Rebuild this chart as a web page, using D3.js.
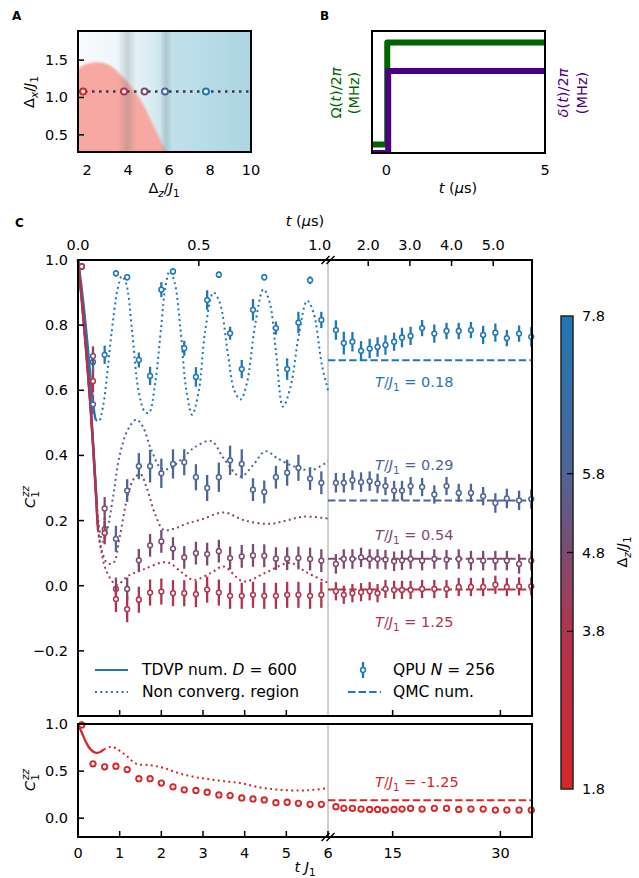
<!DOCTYPE html>
<html>
<head>
<meta charset="utf-8">
<script src="https://cdn.jsdelivr.net/npm/d3@7"></script>
<style>
  body { margin: 0; background: #fff; }
  svg { font-family: "DejaVu Sans", sans-serif; }
</style>
</head>
<body>
<svg id="fig" width="639" height="878"></svg>
<script>
// ---------- panel A: phase diagram ----------
const phaseX = [1.55, 2.0, 2.5, 3.0, 3.3, 3.6, 3.95, 4.3, 4.6, 5.1, 5.5, 5.87];
const phaseY = [1.39, 1.45, 1.47, 1.44, 1.39, 1.31, 1.21, 1.09, 0.97, 0.70, 0.47, 0.27];
const bgStopsX = [1.55, 3.4, 5.0, 6.0, 10];
const bgStopsC = ["#f8fbfd", "#eef6f9", "#dcedf3", "#c2e1ea", "#abd6e3"];
const bandX = [3.95, 5.85];
const bandHalf = [0.45, 0.3];
const probeDz = [1.8, 3.8, 4.8, 5.8, 7.8];
const probeDx = 1.08;

// ---------- panel B: drive ----------
const omegaT = [-0.45, 0.03, 0.03, 5];
const omegaV = [0.07, 0.07, 0.905, 0.905];
const deltaT = [-0.45, 0.06, 0.06, 5];
const deltaV = [0.0, 0.0, 0.672, 0.672];

// ---------- panel C ----------
const cbTicks = [1.8, 3.8, 4.8, 5.8, 7.8];
const cbColors = ["#d62728", "#b0344f", "#7e4b70", "#4f6597", "#1f77b4"];

const dzSeries = [7.8, 5.8, 4.8, 3.8];
const tempLabels = ["0.18", "0.29", "0.54", "1.25"];
const tempLabelY = [0.625, 0.372, 0.157, -0.11];
const qmc = [0.692, 0.262, 0.083, -0.012];

const tQpu = [0.09, 0.36, 0.64, 0.91, 1.18, 1.46, 1.73, 2.0, 2.28, 2.55, 2.83, 3.1, 3.38, 3.65, 3.93, 4.2, 4.47, 4.75, 5.02, 5.29, 5.57, 5.84,
  7.1, 8.2, 9.4, 10.6, 11.8, 12.9, 14.0, 15.2, 16.3, 17.5, 19.1, 20.8, 22.5, 24.2, 25.9, 27.6, 29.3, 30.9, 32.6, 34.3];

const qpu78 = [0.98, 0.687, 0.709, 0.959, 0.947, 0.693, 0.644, 0.909, 0.965, 0.729, 0.641, 0.877, 0.955, 0.775, 0.665, 0.847, 0.947, 0.791, 0.665, 0.808, 0.938, 0.816,
  0.785, 0.745, 0.749, 0.721, 0.728, 0.733, 0.739, 0.749, 0.762, 0.767, 0.791, 0.774, 0.782, 0.782, 0.785, 0.770, 0.777, 0.760, 0.774, 0.764];
const err78 = [0.005, 0.03, 0.028, 0.01, 0.01, 0.023, 0.028, 0.023, 0.01, 0.023, 0.03, 0.03, 0.01, 0.02, 0.028, 0.033, 0.01, 0.02, 0.033, 0.033, 0.012, 0.025,
  0.03, 0.035, 0.03, 0.03, 0.03, 0.03, 0.03, 0.028, 0.03, 0.028, 0.025, 0.028, 0.025, 0.025, 0.025, 0.028, 0.028, 0.025, 0.025, 0.03];

const qpu58 = [0.98, 0.557, 0.174, 0.144, 0.292, 0.367, 0.367, 0.345, 0.374, 0.379, 0.333, 0.300, 0.333, 0.385, 0.374, 0.295, 0.288, 0.333, 0.347, 0.362, 0.329, 0.316,
  0.316, 0.316, 0.324, 0.318, 0.321, 0.314, 0.306, 0.292, 0.292, 0.306, 0.303, 0.280, 0.306, 0.285, 0.285, 0.275, 0.254, 0.268, 0.262, 0.266];
const err58 = [0.005, 0.03, 0.035, 0.04, 0.035, 0.04, 0.05, 0.045, 0.045, 0.04, 0.04, 0.04, 0.045, 0.045, 0.045, 0.035, 0.035, 0.035, 0.04, 0.04, 0.035, 0.035,
  0.03, 0.03, 0.03, 0.03, 0.03, 0.03, 0.028, 0.03, 0.03, 0.028, 0.028, 0.028, 0.028, 0.028, 0.028, 0.028, 0.03, 0.03, 0.03, 0.03];

const qpu48 = [0.98, 0.705, 0.237, -0.010, -0.010, 0.078, 0.124, 0.136, 0.114, 0.087, 0.100, 0.097, 0.106, 0.085, 0.090, 0.093, 0.092, 0.083, 0.083, 0.085, 0.082, 0.077,
  0.067, 0.082, 0.082, 0.087, 0.082, 0.082, 0.080, 0.075, 0.078, 0.082, 0.077, 0.082, 0.080, 0.082, 0.077, 0.077, 0.077, 0.077, 0.067, 0.077];
const err48 = [0.005, 0.03, 0.035, 0.035, 0.035, 0.035, 0.035, 0.035, 0.035, 0.035, 0.035, 0.035, 0.035, 0.035, 0.035, 0.035, 0.035, 0.035, 0.035, 0.035, 0.035, 0.035,
  0.03, 0.03, 0.03, 0.03, 0.03, 0.03, 0.03, 0.03, 0.03, 0.03, 0.03, 0.03, 0.03, 0.03, 0.03, 0.03, 0.03, 0.03, 0.03, 0.03];

const qpu38 = [0.98, 0.628, 0.162, -0.041, -0.072, -0.043, -0.021, -0.018, -0.023, -0.023, -0.026, -0.012, -0.021, -0.031, -0.031, -0.028, -0.031, -0.031, -0.028, -0.028, -0.031, -0.028,
  -0.017, -0.028, -0.023, -0.020, -0.017, -0.023, -0.010, -0.013, -0.013, -0.013, -0.010, -0.010, -0.010, -0.004, -0.004, -0.004, 0.003, -0.004, -0.002, -0.002];
const err38 = [0.005, 0.035, 0.035, 0.04, 0.04, 0.04, 0.04, 0.04, 0.04, 0.04, 0.04, 0.04, 0.04, 0.04, 0.04, 0.04, 0.04, 0.04, 0.04, 0.04, 0.04, 0.04,
  0.028, 0.028, 0.028, 0.028, 0.028, 0.028, 0.028, 0.028, 0.028, 0.028, 0.028, 0.028, 0.028, 0.028, 0.028, 0.028, 0.028, 0.028, 0.028, 0.028];

// TDVP curves: [t J1, C]
const solid78 = [[0, 1.0], [0.1, 0.9], [0.2, 0.78], [0.3, 0.64], [0.36, 0.56], [0.42, 0.51]];
const dot78 = [[0.42, 0.51], [0.5, 0.505], [0.6, 0.55], [0.7, 0.65], [0.8, 0.77], [0.95, 0.91], [1.05, 0.95], [1.15, 0.93], [1.3, 0.78], [1.45, 0.6], [1.6, 0.535],
  [1.7, 0.53], [1.85, 0.62], [2.0, 0.8], [2.1, 0.92], [2.2, 0.965], [2.32, 0.93], [2.45, 0.8], [2.6, 0.6], [2.74, 0.525], [2.9, 0.6], [3.05, 0.78], [3.25, 0.9],
  [3.4, 0.87], [3.6, 0.71], [3.75, 0.6], [3.9, 0.572], [4.05, 0.62], [4.25, 0.8], [4.45, 0.91], [4.6, 0.87], [4.75, 0.72], [4.92, 0.55], [5.1, 0.61], [5.3, 0.77],
  [5.5, 0.875], [5.65, 0.84], [5.85, 0.68], [6.0, 0.60]];
const solid58 = [[0, 1], [0.1, 0.87], [0.2, 0.72], [0.3, 0.56], [0.38, 0.40], [0.45, 0.25]];
const dot58 = [[0.45, 0.25], [0.52, 0.17], [0.6, 0.135], [0.7, 0.17], [0.85, 0.28], [1.0, 0.40], [1.2, 0.48], [1.4, 0.51], [1.55, 0.49], [1.75, 0.42], [2.0, 0.36],
  [2.2, 0.36], [2.5, 0.39], [2.8, 0.425], [3.2, 0.444], [3.5, 0.39], [3.9, 0.335], [4.2, 0.37], [4.5, 0.413], [4.8, 0.39], [5.17, 0.367], [5.6, 0.355], [6.0, 0.382]];
const solid48 = [[0, 1], [0.1, 0.86], [0.2, 0.71], [0.3, 0.55], [0.4, 0.35], [0.47, 0.19]];
const dot48 = [[0.47, 0.19], [0.55, 0.12], [0.7, 0.07], [0.85, 0.07], [1.0, 0.15], [1.2, 0.28], [1.35, 0.33], [1.5, 0.342], [1.65, 0.30], [1.85, 0.22], [2.05, 0.172],
  [2.3, 0.175], [2.6, 0.19], [3.0, 0.205], [3.5, 0.225], [4.0, 0.2], [4.6, 0.19], [5.0, 0.2], [5.4, 0.212], [6.0, 0.206]];
const solid38 = [[0, 1], [0.1, 0.87], [0.2, 0.72], [0.29, 0.57], [0.4, 0.35], [0.48, 0.17]];
const dot38 = [[0.48, 0.17], [0.55, 0.11], [0.7, 0.04], [0.93, 0.003], [1.2, 0.03], [1.57, 0.05], [2.13, 0.072], [2.5, 0.04], [2.77, 0.018], [3.2, 0.04], [3.49, 0.059],
  [3.97, 0.013], [4.5, 0.04], [5.09, 0.07], [5.5, 0.04], [6.0, 0.009]];

// bottom panel, Delta_z = 1.8
const qpu18 = [0.99, 0.577, 0.545, 0.552, 0.516, 0.419, 0.419, 0.373, 0.333, 0.301, 0.294, 0.276, 0.247, 0.240, 0.215, 0.204, 0.194, 0.165, 0.169, 0.158, 0.147, 0.147,
  0.122, 0.104, 0.104, 0.097, 0.093, 0.093, 0.086, 0.093, 0.097, 0.104, 0.097, 0.104, 0.104, 0.093, 0.097, 0.097, 0.086, 0.086, 0.086, 0.086];
const solid18 = [[0, 1.0], [0.1, 0.9], [0.2, 0.8], [0.3, 0.73], [0.42, 0.695], [0.52, 0.70], [0.62, 0.73]];
const dot18 = [[0.62, 0.73], [0.77, 0.756], [0.9, 0.745], [1.05, 0.70], [1.17, 0.66], [1.4, 0.577], [1.73, 0.563], [2.05, 0.534], [2.45, 0.473], [2.93, 0.427],
  [3.41, 0.398], [3.89, 0.373], [4.37, 0.326], [4.85, 0.301], [5.33, 0.294], [5.65, 0.301], [6.0, 0.319]];
const qmc18 = 0.19;
const tempLabel18 = "-1.25";

// ticks
const usPerTJ = 5.8;                 // t J1 per microsecond
const topTicksL = [0.0, 0.5, 1.0];
const topTicksR = [2.0, 3.0, 4.0, 5.0];
const botTicksL = [0, 1, 2, 3, 4, 5, 6];
const botTicksR = [15, 30];

// ---------- drawing ----------
const svg = d3.select("#fig");
const cmap = d3.scaleLinear().domain(cbTicks).range(cbColors);
const defs = svg.append("defs");

// rich text helper: parts = [[text, {i, sub, sup, dx}], ...]
function rich(sel, parts, size) {
  let shift = 0;
  parts.forEach(([s, o = {}]) => {
    const ts = sel.append("tspan").text(s);
    const want = o.sub ? size * 0.28 : o.sup ? -size * 0.42 : 0;
    if (want !== shift) ts.attr("dy", want - shift);
    shift = want;
    if (o.i) ts.attr("font-style", "italic");
    if (o.sub || o.sup) ts.attr("font-size", size * 0.72);
    if (o.dx) ts.attr("dx", o.dx);
  });
  return sel;
}
function label(x, y, parts, size, opts = {}) {
  const t = svg.append("text")
    .attr("transform", `translate(${x},${y})` + (opts.rot ? " rotate(-90)" : ""))
    .attr("text-anchor", opts.anchor || "middle")
    .attr("font-size", size)
    .attr("fill", opts.color || "#000");
  return rich(t, parts, size);
}
const fmt = v => v.toFixed(1).replace("-", "\u2212");
const TS = 14.5;
const LS = 15.5;

// ===== Panel A =====
const xA = d3.scaleLinear([1.55, 10], [78, 251]);
const yA = d3.scaleLinear([0.27, 1.89], [152, 31]);
const gA = svg.append("g");
defs.append("clipPath").attr("id", "clipA").append("rect")
  .attr("x", 78).attr("y", 31).attr("width", 173).attr("height", 121);
const bg = defs.append("linearGradient").attr("id", "bgA")
  .attr("gradientUnits", "userSpaceOnUse").attr("x1", xA(1.55)).attr("x2", xA(10)).attr("y1", 0).attr("y2", 0);
bgStopsX.forEach((x, i) => bg.append("stop")
  .attr("offset", (xA(x) - xA(1.55)) / (xA(10) - xA(1.55))).attr("stop-color", bgStopsC[i]));
const inA = gA.append("g").attr("clip-path", "url(#clipA)");
inA.append("rect").attr("x", 78).attr("y", 31).attr("width", 173).attr("height", 121).attr("fill", "url(#bgA)");

defs.append("filter").attr("id", "soft").append("feGaussianBlur").attr("stdDeviation", 1.2);
const phase = phaseX.map((x, i) => [x, phaseY[i]]);
inA.append("path")
  .attr("d", d3.area().x(d => xA(d[0])).y0(yA(0.1)).y1(d => yA(d[1])).curve(d3.curveMonotoneX)(phase))
  .attr("fill", "#f7a8a2").attr("filter", "url(#soft)");

bandX.forEach((c, i) => {
  const id = "band" + i;
  const g = defs.append("linearGradient").attr("id", id)
    .attr("gradientUnits", "userSpaceOnUse")
    .attr("x1", xA(c - bandHalf[i])).attr("x2", xA(c + bandHalf[i])).attr("y1", 0).attr("y2", 0);
  [[0, 0], [0.5, 0.24], [1, 0]].forEach(([o, a]) =>
    g.append("stop").attr("offset", o).attr("stop-color", "#5a6870").attr("stop-opacity", a));
  inA.append("rect").attr("x", xA(c - bandHalf[i])).attr("y", 31)
    .attr("width", xA(c + bandHalf[i]) - xA(c - bandHalf[i])).attr("height", 121)
    .attr("fill", `url(#${id})`);
});

inA.append("line").attr("x1", xA(1.55)).attr("x2", xA(10)).attr("y1", yA(probeDx)).attr("y2", yA(probeDx))
  .attr("stroke", "#3a3a48").attr("stroke-width", 2.5).attr("stroke-dasharray", "2.5,4.5");
gA.selectAll("circle.probe").data(probeDz).join("circle")
  .attr("cx", d => xA(d)).attr("cy", yA(probeDx)).attr("r", 3)
  .attr("fill", "#fff").attr("stroke", d => cmap(d)).attr("stroke-width", 2);

gA.append("rect").attr("x", 78).attr("y", 31).attr("width", 173).attr("height", 121)
  .attr("fill", "none").attr("stroke", "#000").attr("stroke-width", 2);
[0.5, 1.0, 1.5].forEach(v => {
  gA.append("line").attr("x1", 78).attr("x2", 84).attr("y1", yA(v)).attr("y2", yA(v)).attr("stroke", "#000").attr("stroke-width", 1.5);
  label(68, yA(v) + 5, [[v.toFixed(1)]], TS, { anchor: "end" });
});
[2, 4, 6, 8, 10].forEach(v => label(xA(v), 175, [[String(v)]], TS));
label(34, 92, [["\u0394"], ["x", { i: 1, sub: 1 }], ["/"], ["J", { i: 1 }], ["1", { sub: 1 }]], TS, { rot: 1 });
label(164, 193, [["\u0394"], ["z", { i: 1, sub: 1 }], ["/"], ["J", { i: 1 }], ["1", { sub: 1 }]], TS);
svg.append("text").attr("x", 12).attr("y", 20).attr("font-size", 12).attr("font-weight", "bold").text("A");

// ===== Panel B =====
const xB = d3.scaleLinear([-0.45, 5], [372, 545]);
const yB = d3.scaleLinear([0, 1], [153, 31]);
defs.append("clipPath").attr("id", "clipB").append("rect")
  .attr("x", 372).attr("y", 31).attr("width", 173).attr("height", 122);
const gB = svg.append("g").attr("clip-path", "url(#clipB)");
const lineB = d3.line().x(d => xB(d[0])).y(d => yB(d[1]));
gB.append("path").attr("d", lineB(omegaT.map((t, i) => [t, omegaV[i]])))
  .attr("fill", "none").attr("stroke", "#006400").attr("stroke-width", 6).attr("stroke-linejoin", "round");
gB.append("path").attr("d", lineB(deltaT.map((t, i) => [t, deltaV[i]])))
  .attr("fill", "none").attr("stroke", "#4b0082").attr("stroke-width", 6).attr("stroke-linejoin", "round");
svg.append("rect").attr("x", 372).attr("y", 31).attr("width", 173).attr("height", 122)
  .attr("fill", "none").attr("stroke", "#000").attr("stroke-width", 2);
[0, 5].forEach(v => label(xB(v), 175, [[String(v)]], TS));
label(458, 193, [["t", { i: 1 }], [" ("], ["\u03bc", { i: 1 }], ["s)"]], TS);
label(341, 93, [["\u03a9("], ["t", { i: 1 }], [")/2"], ["\u03c0", { i: 1 }]], TS, { rot: 1, color: "#006400" });
label(359, 93, [["(MHz)"]], TS, { rot: 1, color: "#006400" });
label(568, 93, [["\u03b4", { i: 1 }], ["("], ["t", { i: 1 }], [")/2"], ["\u03c0", { i: 1 }]], TS, { rot: 1, color: "#4b0082" });
label(587, 93, [["(MHz)"]], TS, { rot: 1, color: "#4b0082" });
svg.append("text").attr("x", 320).attr("y", 20).attr("font-size", 12).attr("font-weight", "bold").text("B");

// ===== Panel C =====
const L0 = 78, BRK = 328, R1 = 532;
const xL = d3.scaleLinear([0, 6], [L0, BRK]);
const xR = d3.scaleLinear([6, 34.4], [BRK, R1]);
const X = t => (t <= 6 ? xL(t) : xR(t));
const yM = d3.scaleLinear([-0.4, 1.0], [716, 260]);
const yBt = d3.scaleLinear([-0.2, 1.0], [837, 724]);

const curve = d3.curveCatmullRom.alpha(0.5);
const lineM = d3.line().x(d => xL(d[0])).y(d => yM(d[1])).curve(curve);
const lineBt = d3.line().x(d => xL(d[0])).y(d => yBt(d[1])).curve(curve);

// break line
[[260, 716], [724, 837]].forEach(([a, b]) =>
  svg.append("line").attr("x1", BRK).attr("x2", BRK).attr("y1", a).attr("y2", b).attr("stroke", "#a0a0a0").attr("stroke-width", 1));

const solids = [solid78, solid58, solid48, solid38];
const dots = [dot78, dot58, dot48, dot38];
const qpus = [qpu78, qpu58, qpu48, qpu38];
const errs = [err78, err58, err48, err38];

const gC = svg.append("g");
dzSeries.forEach((dz, i) => {
  gC.append("path").attr("d", lineM(dots[i])).attr("fill", "none")
    .attr("stroke", cmap(dz)).attr("stroke-width", 2).attr("stroke-dasharray", "2,3.3");
});
dzSeries.forEach((dz, i) => {
  gC.append("path").attr("d", lineM(solids[i])).attr("fill", "none")
    .attr("stroke", cmap(dz)).attr("stroke-width", 2.4);
});
dzSeries.forEach((dz, i) => {
  gC.append("line").attr("x1", xR(6)).attr("x2", xR(34.4)).attr("y1", yM(qmc[i])).attr("y2", yM(qmc[i]))
    .attr("stroke", cmap(dz)).attr("stroke-width", 2).attr("stroke-dasharray", "7.4,3.2");
});
dzSeries.forEach((dz, i) => {
  const c = cmap(dz);
  const g = gC.append("g");
  g.selectAll("line").data(tQpu).join("line")
    .attr("x1", d => X(d)).attr("x2", d => X(d))
    .attr("y1", (d, j) => yM(qpus[i][j] - errs[i][j])).attr("y2", (d, j) => yM(qpus[i][j] + errs[i][j]))
    .attr("stroke", c).attr("stroke-width", 2.3);
  g.selectAll("circle").data(tQpu).join("circle")
    .attr("cx", d => X(d)).attr("cy", (d, j) => yM(qpus[i][j])).attr("r", 2.4)
    .attr("fill", "#fff").attr("stroke", c).attr("stroke-width", 1.5);
});
dzSeries.forEach((dz, i) => {
  label(xR(12.55), yM(tempLabelY[i]) + 5,
    [["T", { i: 1 }], ["/"], ["J", { i: 1 }], ["1", { sub: 1 }], [" = " + tempLabels[i]]], TS, { anchor: "start", color: cmap(dz) });
});

// main axes frame
svg.append("line").attr("x1", L0).attr("x2", L0).attr("y1", 260).attr("y2", 716).attr("stroke", "#000").attr("stroke-width", 2);
svg.append("line").attr("x1", R1).attr("x2", R1).attr("y1", 260).attr("y2", 716).attr("stroke", "#000").attr("stroke-width", 2);
svg.append("line").attr("x1", L0 - 1).attr("x2", R1 + 1).attr("y1", 260).attr("y2", 260).attr("stroke", "#000").attr("stroke-width", 2);
svg.append("line").attr("x1", L0 - 1).attr("x2", R1 + 1).attr("y1", 716).attr("y2", 716).attr("stroke", "#000").attr("stroke-width", 2);
[1.0, 0.8, 0.6, 0.4, 0.2, 0.0, -0.2].forEach(v => {
  svg.append("line").attr("x1", L0).attr("x2", L0 + 6).attr("y1", yM(v)).attr("y2", yM(v)).attr("stroke", "#000").attr("stroke-width", 1.5);
  label(68, yM(v) + 5, [[fmt(v)]], TS, { anchor: "end" });
});
// top axis (microseconds)
topTicksL.forEach(v => {
  const x = xL(v * usPerTJ);
  if (v > 0 && v < 1) svg.append("line").attr("x1", x).attr("x2", x).attr("y1", 260).attr("y2", 266).attr("stroke", "#000").attr("stroke-width", 1.5);
  label(x, 250, [[v.toFixed(1)]], TS);
});
topTicksR.forEach(v => {
  const x = xR(v * usPerTJ);
  svg.append("line").attr("x1", x).attr("x2", x).attr("y1", 260).attr("y2", 266).attr("stroke", "#000").attr("stroke-width", 1.5);
  label(x, 250, [[v.toFixed(1)]], TS);
});
label(305, 226, [["t", { i: 1 }], [" ("], ["\u03bc", { i: 1 }], ["s)"]], TS);
// bottom ticks of main panel
botTicksL.slice(1, -1).map(xL).concat(botTicksR.map(xR)).forEach(x =>
  svg.append("line").attr("x1", x).attr("x2", x).attr("y1", 716).attr("y2", 710).attr("stroke", "#000").attr("stroke-width", 1.5));
label(35, 497, [["C", { i: 1 }], ["1", { sub: 1 }], ["zz", { i: 1, sup: 1, dx: -6 }]], TS, { rot: 1 });
svg.append("text").attr("x", 15).attr("y", 227).attr("font-size", 12).attr("font-weight", "bold").text("C");

// legend
const lg = svg.append("g");
lg.append("line").attr("x1", 95).attr("x2", 128).attr("y1", 670).attr("y2", 670).attr("stroke", "#1f77b4").attr("stroke-width", 2);
label(142, 675, [["TDVP num. "], ["D", { i: 1 }], [" = 600"]], LS, { anchor: "start" });
lg.append("line").attr("x1", 95).attr("x2", 128).attr("y1", 692).attr("y2", 692).attr("stroke", "#1f77b4").attr("stroke-width", 2).attr("stroke-dasharray", "2,3.3");
label(142, 697, [["Non converg. region"]], LS, { anchor: "start" });
lg.append("line").attr("x1", 363).attr("x2", 363).attr("y1", 662).attr("y2", 678).attr("stroke", "#1f77b4").attr("stroke-width", 2.3);
lg.append("circle").attr("cx", 363).attr("cy", 670).attr("r", 2.4).attr("fill", "#fff").attr("stroke", "#1f77b4").attr("stroke-width", 1.5);
label(393, 675, [["QPU "], ["N", { i: 1 }], [" = 256"]], LS, { anchor: "start" });
lg.append("line").attr("x1", 348).attr("x2", 381).attr("y1", 692).attr("y2", 692).attr("stroke", "#1f77b4").attr("stroke-width", 2).attr("stroke-dasharray", "7.4,3.2");
label(393, 697, [["QMC num."]], LS, { anchor: "start" });

// ===== bottom panel =====
const c18 = cmap(1.8);
const gD = svg.append("g");
gD.append("path").attr("d", lineBt(dot18)).attr("fill", "none").attr("stroke", c18).attr("stroke-width", 2).attr("stroke-dasharray", "2,3.3");
gD.append("path").attr("d", lineBt(solid18)).attr("fill", "none").attr("stroke", c18).attr("stroke-width", 2.3);
gD.append("line").attr("x1", xR(6)).attr("x2", xR(34.4)).attr("y1", yBt(qmc18)).attr("y2", yBt(qmc18))
  .attr("stroke", c18).attr("stroke-width", 2).attr("stroke-dasharray", "7.4,3.2");
gD.selectAll("circle").data(tQpu).join("circle")
  .attr("cx", d => X(d)).attr("cy", (d, j) => yBt(qpu18[j])).attr("r", 2.7)
  .attr("fill", "#fff").attr("stroke", c18).attr("stroke-width", 1.9);
label(xR(12.55), 787, [["T", { i: 1 }], ["/"], ["J", { i: 1 }], ["1", { sub: 1 }], [" = " + tempLabel18]], TS, { anchor: "start", color: c18 });

svg.append("rect").attr("x", L0).attr("y", 724).attr("width", R1 - L0).attr("height", 113)
  .attr("fill", "none").attr("stroke", "#000").attr("stroke-width", 2);
[1.0, 0.5, 0.0].forEach(v => {
  svg.append("line").attr("x1", L0).attr("x2", L0 + 6).attr("y1", yBt(v)).attr("y2", yBt(v)).attr("stroke", "#000").attr("stroke-width", 1.5);
  label(68, yBt(v) + 5, [[fmt(v)]], TS, { anchor: "end" });
});
botTicksL.forEach(v => {
  const x = xL(v);
  svg.append("line").attr("x1", x).attr("x2", x).attr("y1", 837).attr("y2", 831).attr("stroke", "#000").attr("stroke-width", 1.5);
  label(x, 858, [[String(v)]], TS);
});
botTicksR.forEach(v => {
  const x = xR(v);
  svg.append("line").attr("x1", x).attr("x2", x).attr("y1", 837).attr("y2", 831).attr("stroke", "#000").attr("stroke-width", 1.5);
  label(x, 858, [[String(v)]], TS);
});
label(305, 872, [["t", { i: 1 }], [" "], ["J", { i: 1 }], ["1", { sub: 1 }]], TS);
label(35, 780, [["C", { i: 1 }], ["1", { sub: 1 }], ["zz", { i: 1, sup: 1, dx: -6 }]], TS, { rot: 1 });

// axis break marks
[260, 837].forEach(y => {
  [-2.5, 2.5].forEach(dx => svg.append("line")
    .attr("x1", BRK + dx - 4).attr("y1", y + 4).attr("x2", BRK + dx + 4).attr("y2", y - 4)
    .attr("stroke", "#000").attr("stroke-width", 1.5));
});

// ===== colorbar =====
const yCb = d3.scaleLinear([1.8, 7.8], [789, 316]);
const cbg = defs.append("linearGradient").attr("id", "cbGrad")
  .attr("gradientUnits", "userSpaceOnUse").attr("x1", 0).attr("x2", 0).attr("y1", yCb(1.8)).attr("y2", yCb(7.8));
cbTicks.forEach(v => cbg.append("stop").attr("offset", (v - 1.8) / 6).attr("stop-color", cmap(v)));
svg.append("rect").attr("x", 561).attr("y", 316).attr("width", 12).attr("height", 473)
  .attr("fill", "url(#cbGrad)").attr("stroke", "#222").attr("stroke-width", 1.5);
cbTicks.forEach(v => {
  if (v > 1.8 && v < 7.8) svg.append("line").attr("x1", 567).attr("x2", 573).attr("y1", yCb(v)).attr("y2", yCb(v)).attr("stroke", "#000").attr("stroke-width", 1.3);
  label(582, yCb(v) + 5, [[v.toFixed(1)]], TS, { anchor: "start" });
});
label(627, 552, [["\u0394"], ["z", { i: 1, sub: 1 }], ["/"], ["J", { i: 1 }], ["1", { sub: 1 }]], TS, { rot: 1 });
</script>
</body>
</html>
